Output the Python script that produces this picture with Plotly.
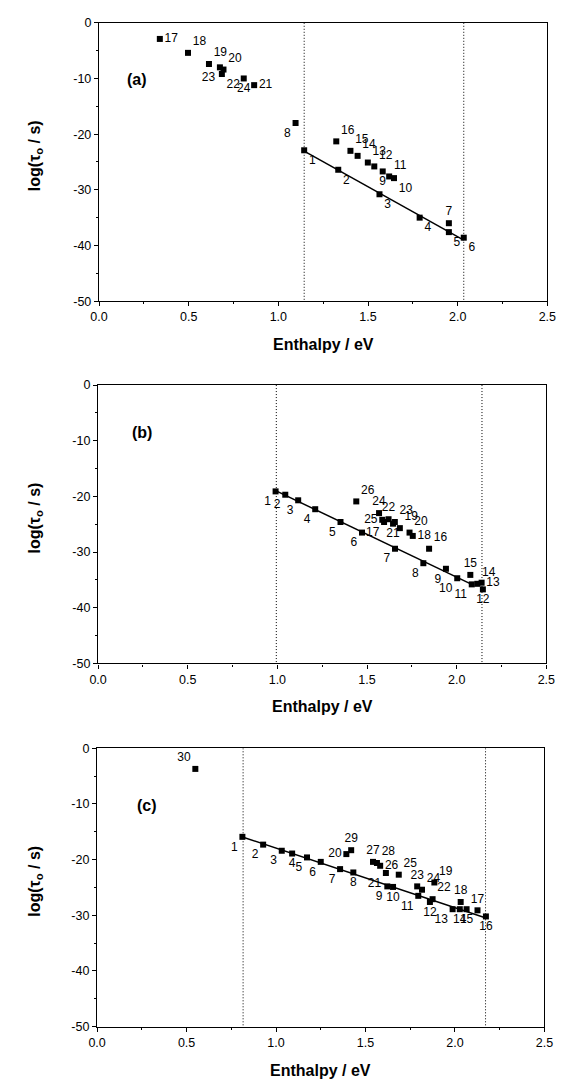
import numpy as np
import plotly.graph_objects as go

# ---------------- data ----------------
# Panel (a)
ids_a = list(range(1, 25))
enth_a = [1.144, 1.334, 1.564, 1.788, 1.951, 2.034, 1.951, 1.096, 1.582, 1.645, 1.618, 1.535,
          1.499, 1.442, 1.402, 1.323, 0.339, 0.496, 0.613, 0.694, 0.865, 0.685, 0.674, 0.807]
logt_a = [-22.9, -26.4, -30.8, -35.0, -37.6, -38.6, -36.0, -18.0, -26.7, -27.9, -27.6, -25.8,
          -25.1, -23.9, -23.0, -21.3, -2.9, -5.4, -7.4, -8.4, -11.2, -9.2, -8.0, -10.0]
fit_ids_a = [1, 2, 3, 4, 5, 6]
vlines_a = [1.144, 2.034]

# Panel (b)
ids_b = list(range(1, 27))
enth_b = [0.990, 1.044, 1.116, 1.211, 1.352, 1.472, 1.656, 1.814, 1.940, 2.003, 2.084, 2.146,
          2.139, 2.115, 2.076, 1.846, 1.595, 1.755, 1.683, 1.737, 1.645, 1.620, 1.655, 1.567,
          1.585, 1.440]
logt_b = [-19.1, -19.7, -20.7, -22.3, -24.6, -26.5, -29.4, -32.0, -33.0, -34.7, -35.8, -36.7,
          -35.5, -35.7, -34.1, -29.4, -24.6, -27.1, -25.7, -26.5, -24.9, -24.1, -24.6, -23.0,
          -24.2, -20.9]
fit_ids_b = [1, 2, 3, 4, 5, 6, 7, 8, 9, 10, 11]
vlines_b = [0.994, 2.141]

# Panel (c)
ids_c = list(range(1, 31))
enth_c = [0.812, 0.928, 1.032, 1.090, 1.173, 1.250, 1.358, 1.432, 1.622, 1.654, 1.795, 1.860,
          1.987, 2.027, 2.065, 2.173, 2.126, 2.032, 1.885, 1.393, 1.614, 1.875, 1.789, 1.816,
          1.686, 1.582, 1.542, 1.564, 1.420, 0.549]
logt_c = [-15.9, -17.3, -18.4, -18.9, -19.6, -20.4, -21.7, -22.3, -24.8, -24.9, -26.5, -27.6,
          -28.9, -28.9, -28.9, -30.2, -29.1, -27.6, -24.1, -19.0, -22.4, -27.1, -24.8, -25.4,
          -22.7, -21.1, -20.4, -20.6, -18.3, -3.7]
fit_ids_c = list(range(1, 17))
vlines_c = [0.816, 2.171]

panel_tags = ["(a)", "(b)", "(c)"]
x_ticks = [0.0, 0.5, 1.0, 1.5, 2.0, 2.5]
y_ticks = [0, -10, -20, -30, -40, -50]

# ---------------- label styling ----------------
lp_a = ["bottom right"] * 6 + ["top center", "bottom left", "bottom center", "bottom right",
        "top right", "top right", "top right", "top right", "top right", "top right",
        "middle right", "top right", "top right", "top right", "middle right",
        "bottom right", "bottom left", "bottom center"]
lp_b = ["bottom left"] * 11 + ["bottom center", "middle right", "top right", "top center",
        "top right", "bottom left", "middle right", "top right", "top right", "bottom center",
        "top center", "top right", "top center", "middle left", "top right"]
lp_c = ["bottom left", "bottom left", "bottom left", "bottom center", "bottom left",
        "bottom left", "bottom left", "bottom center", "bottom left", "bottom center",
        "bottom left", "bottom center", "bottom left", "bottom center", "bottom center",
        "bottom center", "top center", "top center", "top right", "middle left",
        "bottom left", "top right", "top center", "top right", "top right", "middle right",
        "top center", "top right", "top center", "top left"]
tag_pos = [(0.21, -10.2), (0.245, -8.5), (0.28, -10.3)]

FONT = "Liberation Sans, Arial, sans-serif"
W, H = 566, 1085
# pixel boxes of each plot area: (left, right, top, bottom)
boxes = [(93, 556, 16, 298), (92, 555, 383, 665), (91, 553, 751, 1033)]

panels = [
    (ids_a, enth_a, logt_a, fit_ids_a, vlines_a, lp_a),
    (ids_b, enth_b, logt_b, fit_ids_b, vlines_b, lp_b),
    (ids_c, enth_c, logt_c, fit_ids_c, vlines_c, lp_c),
]

fig = go.Figure()
layout = dict(width=W, height=H, margin=dict(l=0, r=0, t=0, b=0),
              paper_bgcolor="white", plot_bgcolor="white", showlegend=False,
              font=dict(family=FONT, size=12, color="black"))
annotations = []

for k, (ids, ex, ly, fids, vls, lpos) in enumerate(panels):
    n = "" if k == 0 else str(k + 1)
    xa, ya = "x" + n, "y" + n
    left, right, top, bottom = boxes[k]
    xdom = [left / W, right / W]
    ydom = [1 - bottom / H, 1 - top / H]

    # dotted vertical lines
    for v in vls:
        fig.add_trace(go.Scatter(x=[v, v], y=[0, -50], mode="lines", xaxis=xa, yaxis=ya,
                                 line=dict(color="black", width=1, dash="1px,2px"),
                                 hoverinfo="skip"))
    # linear fit through the line points
    fx = np.array([ex[i - 1] for i in fids])
    fy = np.array([ly[i - 1] for i in fids])
    slope, icpt = np.polyfit(fx, fy, 1)
    xs = np.array([fx.min(), fx.max()])
    fig.add_trace(go.Scatter(x=xs, y=slope * xs + icpt, mode="lines", xaxis=xa, yaxis=ya,
                             line=dict(color="black", width=1.5), hoverinfo="skip"))
    # data points with number labels
    fig.add_trace(go.Scatter(x=ex, y=ly, mode="markers+text", xaxis=xa, yaxis=ya,
                             text=[str(i) for i in ids], textposition=lpos,
                             textfont=dict(family=FONT, size=12, color="black"),
                             marker=dict(symbol="square", size=6, color="black"),
                             cliponaxis=False))

    axcommon = dict(showgrid=False, zeroline=False, showline=True, linecolor="black",
                    linewidth=1.4, mirror=True, ticks="outside", ticklen=4, tickwidth=1,
                    tickcolor="black", tickfont=dict(family=FONT, size=12.5, color="black"))
    layout["xaxis" + n] = dict(axcommon, domain=xdom, anchor=ya, range=[0, 2.5],
                               tickvals=x_ticks, ticktext=[f"{t:.1f}" for t in x_ticks],
                               minor=dict(dtick=0.25, ticklen=2, ticks="outside",
                                          tickcolor="black"))
    layout["yaxis" + n] = dict(axcommon, domain=ydom, anchor=xa, range=[-50, 0],
                               tickvals=y_ticks, ticktext=[str(t) for t in y_ticks],
                               minor=dict(dtick=5, ticklen=2, ticks="outside",
                                          tickcolor="black"))
    # axis titles
    annotations.append(dict(text="<b>Enthalpy / eV</b>", xref="paper", yref="paper",
                            x=(left + right) / 2 / W, y=1 - (bottom + 44) / H,
                            xanchor="center", yanchor="middle", showarrow=False,
                            font=dict(family=FONT, size=16, color="black")))
    annotations.append(dict(text="<b>log(τ<sub>o</sub> / s)</b>", xref="paper", yref="paper",
                            x=27 / W, y=1 - ((top + bottom) / 2 - 6) / H, textangle=-90,
                            xanchor="center", yanchor="middle", showarrow=False,
                            font=dict(family=FONT, size=16, color="black")))
    tx, ty = tag_pos[k]
    annotations.append(dict(text="<b>" + panel_tags[k] + "</b>", xref=xa, yref=ya,
                            x=tx, y=ty, showarrow=False, xanchor="center", yanchor="middle",
                            font=dict(family=FONT, size=16, color="black")))

layout["annotations"] = annotations
fig.update_layout(**layout)
fig.write_html("out.html")
